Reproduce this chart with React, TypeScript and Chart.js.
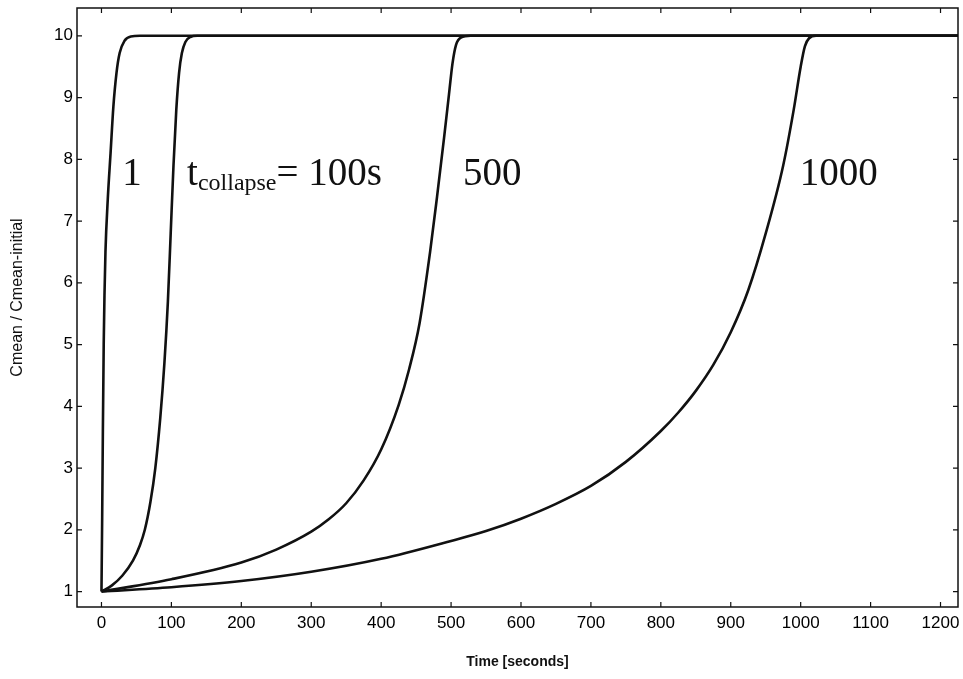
import React, { useEffect, useRef } from "react";
import { Chart, registerables } from "chart.js";

Chart.register(...registerables);

const xTicks = [0, 100, 200, 300, 400, 500, 600, 700, 800, 900, 1000, 1100, 1200];
const yTicks = [1, 2, 3, 4, 5, 6, 7, 8, 9, 10];

const t1 = [0, 1, 2, 3.2, 4.3, 5.7, 9, 13, 17, 21.5, 26, 33, 42, 55, 1225];
const v1 = [1, 2.2, 3.6, 5.0, 5.8, 6.5, 7.35, 8.1, 8.85, 9.4, 9.72, 9.92, 9.99, 10, 10];

const t100 = [0, 15, 30, 45, 55, 62, 70, 77, 84, 90, 95, 99, 103, 107, 111, 115, 120, 127, 137, 1225];
const v100 = [1, 1.1, 1.26, 1.5, 1.75, 2.0, 2.45, 3.0, 3.8, 4.7, 5.7, 6.8, 7.9, 8.8, 9.4, 9.72, 9.9, 9.98, 10, 10];

const t500 = [0, 100, 200, 250, 300, 325, 350, 375, 400, 425, 440, 455, 470, 480, 490, 497, 502, 507, 514, 528, 1225];
const v500 = [1, 1.2, 1.47, 1.68, 1.97, 2.17, 2.43, 2.8, 3.3, 4.02, 4.6, 5.35, 6.5, 7.4, 8.35, 9.05, 9.55, 9.85, 9.97, 10, 10];

const t1000 = [0, 100, 200, 300, 400, 500, 550, 600, 650, 700, 750, 800, 825, 850, 875, 900, 925, 950, 975, 990, 1000, 1006, 1012, 1022, 1225];
const v1000 = [1, 1.07, 1.17, 1.32, 1.53, 1.82, 1.98, 2.18, 2.42, 2.71, 3.1, 3.6, 3.9, 4.25, 4.67, 5.2, 5.88, 6.8, 7.9, 8.8, 9.5, 9.83, 9.96, 10, 10];

const labelTexts = ["1", "t", "500", "1000"];
const labelX = [29.6, 122.4, 517, 998.6];
const labelY = [7.59, 7.59, 7.59, 7.59];

const xTitle = "Time [seconds]";
const yTitle = "Cmean / Cmean-initial";

function pts(t: number[], v: number[]) {
  return t.map((x, i) => ({ x, y: v[i] }));
}

const framePlugin = {
  id: "frame",
  afterDraw(chart: any) {
    const { ctx, chartArea } = chart;
    const xs = chart.scales.x;
    const ys = chart.scales.y;
    const { left, right, top, bottom } = chartArea;
    ctx.save();
    ctx.strokeStyle = "#111";
    ctx.lineWidth = 1.5;
    ctx.strokeRect(left, top, right - left, bottom - top);
    ctx.lineWidth = 1.2;
    const L = 5;
    ctx.beginPath();
    xTicks.forEach((v) => {
      const p = xs.getPixelForValue(v);
      ctx.moveTo(p, bottom);
      ctx.lineTo(p, bottom - L);
      ctx.moveTo(p, top);
      ctx.lineTo(p, top + L);
    });
    yTicks.forEach((v) => {
      const p = ys.getPixelForValue(v);
      ctx.moveTo(left, p);
      ctx.lineTo(left + L, p);
      ctx.moveTo(right, p);
      ctx.lineTo(right - L, p);
    });
    ctx.stroke();

    // y axis title
    ctx.save();
    ctx.fillStyle = "#111";
    ctx.font = "16px 'Liberation Sans', Arial, sans-serif";
    ctx.textAlign = "center";
    ctx.textBaseline = "middle";
    ctx.translate(18, (top + bottom) / 2 - 10);
    ctx.rotate(-Math.PI / 2);
    ctx.fillText(yTitle, 0, 0);
    ctx.restore();

    // annotations
    ctx.fillStyle = "#111";
    ctx.textBaseline = "alphabetic";
    ctx.textAlign = "left";
    const big = "39px 'Liberation Serif', 'Times New Roman', serif";
    const small = "24px 'Liberation Serif', 'Times New Roman', serif";
    labelTexts.forEach((txt, i) => {
      const px = xs.getPixelForValue(labelX[i]);
      const py = ys.getPixelForValue(labelY[i]);
      ctx.font = big;
      ctx.fillText(txt, px, py);
      if (txt === "t") {
        const w = ctx.measureText("t").width;
        ctx.font = small;
        ctx.fillText("collapse", px + w, py + 5);
        const w2 = ctx.measureText("collapse").width;
        ctx.font = big;
        ctx.fillText("= 100s", px + w + w2, py);
      }
    });
    ctx.restore();
  },
};

export default function App() {
  const ref = useRef<HTMLCanvasElement | null>(null);
  useEffect(() => {
    document.body.style.margin = "0";
    const ds = (t: number[], v: number[]) => ({
      data: pts(t, v),
      borderColor: "#111",
      borderWidth: 2.6,
      pointRadius: 0,
      fill: false,
      cubicInterpolationMode: "monotone" as const,
    });
    const chart = new Chart(ref.current as HTMLCanvasElement, {
      type: "line",
      data: {
        datasets: [ds(t1, v1), ds(t100, v100), ds(t500, v500), ds(t1000, v1000)],
      },
      options: {
        animation: false,
        responsive: false,
        maintainAspectRatio: false,
        layout: { padding: { left: 0, right: 5, top: 8, bottom: 0 } },
        plugins: { legend: { display: false }, tooltip: { enabled: false } },
        scales: {
          x: {
            type: "linear",
            min: -35,
            max: 1225,
            afterBuildTicks: (s: any) => {
              s.ticks = xTicks.map((v) => ({ value: v }));
            },
            afterFit: (s: any) => {
              s.height = 72;
              s.paddingLeft = 0;
              s.paddingRight = 0;
            },
            grid: { display: false, drawTicks: false },
            border: { display: false },
            ticks: {
              color: "#000",
              padding: 6,
              font: { family: "'Liberation Sans', Arial, sans-serif", size: 17 },
              maxRotation: 0,
              autoSkip: false,
              callback: (v: any) => String(v),
            },
            title: {
              display: true,
              text: xTitle,
              color: "#111",
              font: { family: "'Liberation Sans', Arial, sans-serif", size: 14, weight: "bold" },
              padding: { top: 0, bottom: 8 },
            },
          },
          y: {
            type: "linear",
            min: 0.75,
            max: 10.45,
            afterBuildTicks: (s: any) => {
              s.ticks = yTicks.map((v) => ({ value: v }));
            },
            afterFit: (s: any) => {
              s.width = 77;
              s.paddingTop = 0;
              s.paddingBottom = 0;
            },
            grid: { display: false, drawTicks: false },
            border: { display: false },
            ticks: {
              color: "#000",
              padding: 4,
              font: { family: "'Liberation Sans', Arial, sans-serif", size: 17 },
              autoSkip: false,
              callback: (v: any) => String(v),
            },
          },
        },
      },
      plugins: [framePlugin],
    });
    return () => chart.destroy();
  }, []);
  return (
    <div style={{ width: 963, height: 679, background: "#fff" }}>
      <canvas ref={ref} width={963} height={679} style={{ display: "block" }} />
    </div>
  );
}
